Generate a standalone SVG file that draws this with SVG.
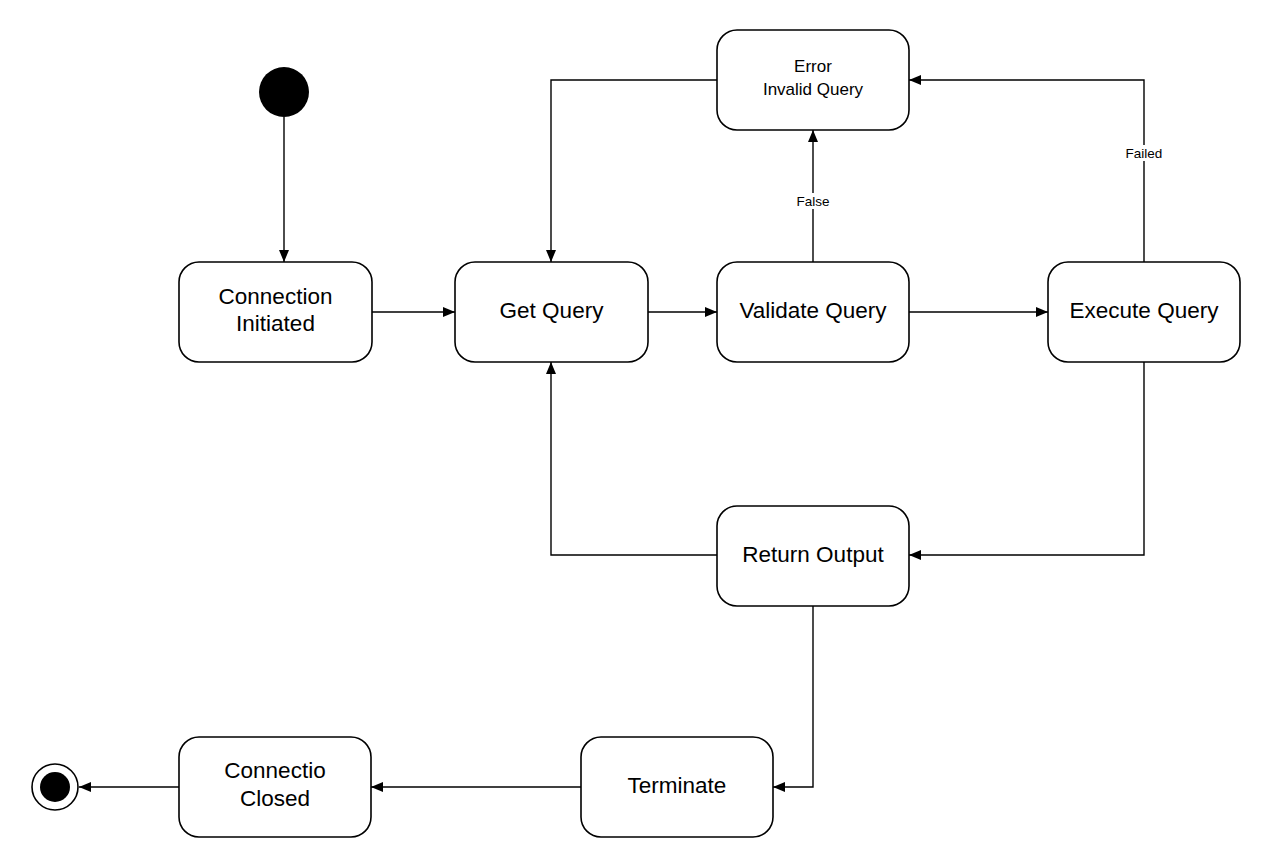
<svg xmlns="http://www.w3.org/2000/svg" width="1271" height="867" viewBox="0 0 1271 867">
<style>
.node{fill:#fff;stroke:#000;stroke-width:1.6}
.t{font-family:"Liberation Sans",Arial,sans-serif;font-size:22.5px;fill:#000;text-anchor:middle}
.ts{font-family:"Liberation Sans",Arial,sans-serif;font-size:17px;fill:#000;text-anchor:middle}
.lbl{font-family:"Liberation Sans",Arial,sans-serif;font-size:13.5px;fill:#000;text-anchor:middle}
.c{fill:none;stroke:#000;stroke-width:1.4;marker-end:url(#ah)}
</style>
<defs>
<marker id="ah" viewBox="0 0 12 10" refX="12" refY="5" markerWidth="12" markerHeight="10" markerUnits="userSpaceOnUse" orient="auto">
<path d="M0,0 L12,5 L0,10 Z" fill="#000"/>
</marker>
</defs>
<rect width="1271" height="867" fill="#fff"/>
<g id="connectors">
<path class="c" d="M284,117 V262"/>
<path class="c" d="M372,312 H455"/>
<path class="c" d="M648,312 H717"/>
<path class="c" d="M909,312 H1048"/>
<path class="c" d="M813,262 V130"/>
<path class="c" d="M1144,262 V80 H909"/>
<path class="c" d="M717,80 H551 V262"/>
<path class="c" d="M1144,362 V555 H909"/>
<path class="c" d="M717,555 H551 V362"/>
<path class="c" d="M813,606 V787 H773"/>
<path class="c" d="M581,787 H371"/>
<path class="c" d="M179,787 H79"/>
<rect x="793" y="193" width="40" height="16" fill="#fff"/>
<text class="lbl" x="813" y="206">False</text>
<rect x="1121" y="145" width="46" height="16" fill="#fff"/>
<text class="lbl" x="1144" y="158">Failed</text>
</g>
<g id="start"><circle cx="284" cy="92" r="25" fill="#000"/></g>
<g id="end"><circle cx="55" cy="787" r="23" fill="#fff" stroke="#000" stroke-width="1.6"/><circle cx="55" cy="787" r="15" fill="#000"/></g>
<g id="connection-initiated"><rect class="node" x="179" y="262" width="193" height="100" rx="20"/><text class="t" x="275.5" y="304">Connection</text><text class="t" x="275.5" y="331">Initiated</text></g>
<g id="get-query"><rect class="node" x="455" y="262" width="193" height="100" rx="20"/><text class="t" x="551.5" y="318">Get Query</text></g>
<g id="validate-query"><rect class="node" x="717" y="262" width="192" height="100" rx="20"/><text class="t" x="813" y="318">Validate Query</text></g>
<g id="execute-query"><rect class="node" x="1048" y="262" width="192" height="100" rx="20"/><text class="t" x="1144" y="318">Execute Query</text></g>
<g id="error"><rect class="node" x="717" y="30" width="192" height="100" rx="20"/><text class="ts" x="813" y="72">Error</text><text class="ts" x="813" y="95">Invalid Query</text></g>
<g id="return-output"><rect class="node" x="717" y="506" width="192" height="100" rx="20"/><text class="t" x="813" y="562">Return Output</text></g>
<g id="terminate"><rect class="node" x="581" y="737" width="192" height="100" rx="20"/><text class="t" x="677" y="793">Terminate</text></g>
<g id="connection-closed"><rect class="node" x="179" y="737" width="192" height="100" rx="20"/><text class="t" x="275" y="778">Connectio</text><text class="t" x="275" y="806">Closed</text></g>
</svg>
